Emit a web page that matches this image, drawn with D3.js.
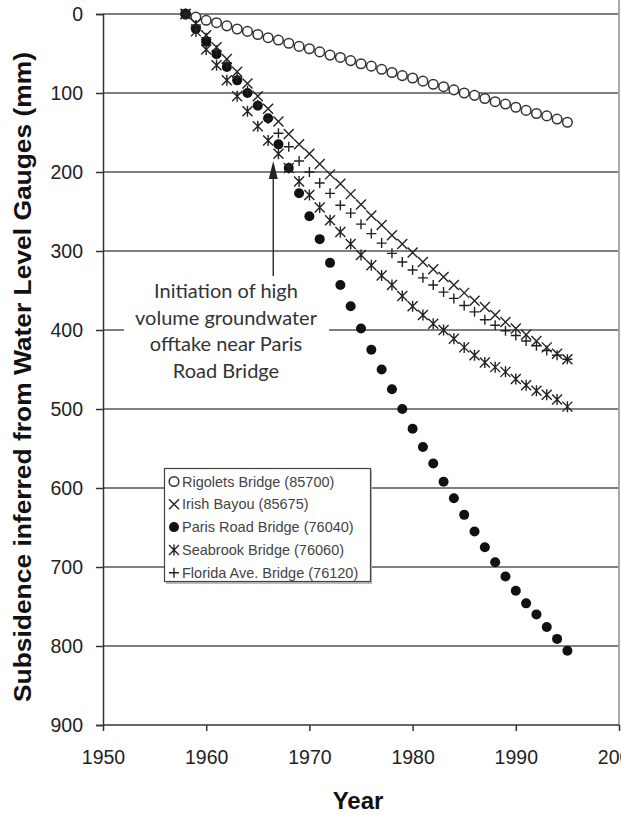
<!DOCTYPE html>
<html>
<head>
<meta charset="utf-8">
<script src="https://cdn.jsdelivr.net/npm/d3@7"></script>
<style>
  body { margin: 0; background: #fff; }
  svg { display: block; font-family: "Liberation Sans", Arial, sans-serif; }
  .tick text { font-size: 19.5px; fill: #222; }
</style>
</head>
<body>
<div id="chart"></div>
<script>
// years 1958 - 1995, one reading per year
var years = [1958,1959,1960,1961,1962,1963,1964,1965,1966,1967,1968,1969,1970,1971,1972,1973,1974,1975,1976,
             1977,1978,1979,1980,1981,1982,1983,1984,1985,1986,1987,1988,1989,1990,1991,1992,1993,1994,1995];

var rigolets = [0,4,8,11,15,19,22,26,30,33,37,41,44,48,52,55,59,63,66,70,74,78,81,85,89,92,96,100,103,107,111,114,118,122,126,129,133,137];
var irishBayou = [0,12,27,42,57,73,88,104,120,136,152,165,177,190,203,215,228,241,255,267,280,291,302,314,323,333,343,353,363,371,381,390,398,406,414,422,430,437];
var parisRoad = [0,19,35,51,67,84,100,116,132,165,195,227,256,285,315,343,370,398,425,450,475,500,525,548,569,592,613,634,655,675,694,712,730,746,760,776,791,806];
var seabrook = [0,22,45,65,84,104,123,142,160,177,195,212,229,245,261,276,291,305,318,331,343,357,370,381,392,400,411,422,432,441,447,453,462,470,477,482,488,497];
var floridaAve = [0,14,30,46,62,80,97,115,133,151,168,186,200,214,227,242,252,266,278,290,303,314,324,334,343,352,360,369,377,387,394,401,407,414,420,426,432,437];

var seriesNames = ["Rigolets Bridge (85700)", "Irish Bayou (85675)", "Paris Road Bridge (76040)",
                   "Seabrook Bridge (76060)", "Florida Ave. Bridge (76120)"];
var seriesValues = [rigolets, irishBayou, parisRoad, seabrook, floridaAve];
var seriesMarkers = ["circleOpen", "cross", "circle", "star", "plus"];

var yTicks = [0,100,200,300,400,500,600,700,800,900];
var xTicks = [1950,1960,1970,1980,1990,2000];

var annotationLines = ["Initiation of high", "volume groundwater", "offtake near Paris", "Road Bridge"];

var W = 621, H = 815;
var x = d3.scaleLinear().domain([1950, 2000]).range([103, 619]);
var y = d3.scaleLinear().domain([0, 900]).range([14, 725]);

var svg = d3.select("#chart").append("svg").attr("width", W).attr("height", H);

// gridlines
svg.append("g").selectAll("line")
  .data(yTicks.slice(0, -1))
  .enter().append("line")
  .attr("x1", x(1950)).attr("x2", x(2000))
  .attr("y1", function(d){ return y(d); }).attr("y2", function(d){ return y(d); })
  .attr("stroke", "#555").attr("stroke-width", 1.5);

// right border
svg.append("line")
  .attr("x1", x(2000)).attr("x2", x(2000))
  .attr("y1", 0).attr("y2", y(900))
  .attr("stroke", "#aaa").attr("stroke-width", 2);

// axes
var yAxis = svg.append("g")
  .attr("transform", "translate(" + x(1950) + ",0)")
  .call(d3.axisLeft(y).tickValues(yTicks).tickSize(7).tickPadding(13).tickFormat(d3.format("d")));
var xAxis = svg.append("g")
  .attr("transform", "translate(0," + y(900) + ")")
  .call(d3.axisBottom(x).tickValues(xTicks).tickSize(6).tickPadding(19).tickFormat(d3.format("d")));
[yAxis, xAxis].forEach(function(a){
  a.select(".domain").attr("stroke", "#333").attr("stroke-width", 1.5);
  a.selectAll(".tick line").attr("stroke", "#333").attr("stroke-width", 1.5);
  a.attr("font-family", null).attr("font-size", null);
});
xAxis.select(".domain").attr("d", "M" + x(1950) + ",0H" + x(2000));

// axis titles
svg.append("text")
  .attr("transform", "translate(31," + 377 + ") rotate(-90)")
  .attr("text-anchor", "middle")
  .attr("font-weight", "bold").attr("font-size", 24).attr("fill", "#111")
  .attr("textLength", 650).attr("lengthAdjust", "spacingAndGlyphs")
  .text("Subsidence inferred from Water Level Gauges (mm)");

svg.append("text")
  .attr("x", 358).attr("y", 809)
  .attr("text-anchor", "middle")
  .attr("font-weight", "bold").attr("font-size", 24).attr("fill", "#111")
  .text("Year");

// markers
function drawMarker(g, type, cx, cy) {
  var s = 5;
  if (type == "circleOpen") {
    g.append("circle").attr("cx", cx).attr("cy", cy).attr("r", 4.8)
      .attr("fill", "#fff").attr("stroke", "#333").attr("stroke-width", 1.5);
  } else if (type == "circle") {
    g.append("circle").attr("cx", cx).attr("cy", cy).attr("r", 5).attr("fill", "#111");
  } else if (type == "cross") {
    g.append("path").attr("d", "M" + (cx-s) + "," + (cy-s) + "L" + (cx+s) + "," + (cy+s) +
        "M" + (cx-s) + "," + (cy+s) + "L" + (cx+s) + "," + (cy-s))
      .attr("stroke", "#222").attr("stroke-width", 1.4);
  } else if (type == "plus") {
    g.append("path").attr("d", "M" + (cx-s) + "," + cy + "H" + (cx+s) + "M" + cx + "," + (cy-s) + "V" + (cy+s))
      .attr("stroke", "#222").attr("stroke-width", 1.4);
  } else if (type == "star") {
    // asterisk: x with a vertical stroke
    g.append("path").attr("d", "M" + (cx-s) + "," + (cy-s) + "L" + (cx+s) + "," + (cy+s) +
        "M" + (cx-s) + "," + (cy+s) + "L" + (cx+s) + "," + (cy-s) +
        "M" + cx + "," + (cy-s-0.5) + "V" + (cy+s+0.5))
      .attr("stroke", "#222").attr("stroke-width", 1.4);
  }
}

var marks = svg.append("g");
seriesValues.forEach(function(vals, i){
  var g = marks.append("g").attr("class", "series-" + i);
  vals.forEach(function(v, j){
    drawMarker(g, seriesMarkers[i], x(years[j]), y(v));
  });
});

// annotation
var ann = svg.append("g");
ann.append("rect").attr("x", 124).attr("y", 276).attr("width", 205).attr("height", 108).attr("fill", "#fff");
ann.append("line")
  .attr("x1", x(1966.5)).attr("x2", x(1966.5))
  .attr("y1", 276).attr("y2", 172)
  .attr("stroke", "#333").attr("stroke-width", 1.5);
ann.append("path")
  .attr("d", "M" + x(1966.5) + ",161L" + (x(1966.5) - 4.5) + ",179L" + (x(1966.5) + 4.5) + ",179Z")
  .attr("fill", "#222");
ann.selectAll(".ann")
  .data(annotationLines)
  .enter().append("text")
  .attr("class", "ann")
  .attr("x", 226)
  .attr("y", function(d, i){ return 298 + i * 26.5; })
  .attr("text-anchor", "middle")
  .attr("font-family", "Lato, 'Open Sans', sans-serif")
  .attr("font-size", 20).attr("fill", "#333")
  .text(function(d){ return d; });

// legend
var legend = svg.append("g");
legend.append("rect").attr("x", 166).attr("y", 470).attr("width", 206).attr("height", 114).attr("fill", "#bbb");
legend.append("rect").attr("x", 164.5).attr("y", 468.5).attr("width", 206).attr("height", 113)
  .attr("fill", "#fff").attr("stroke", "#444").attr("stroke-width", 1.2);
seriesNames.forEach(function(name, i){
  var cy = 481.5 + i * 22.8;
  var g = legend.append("g");
  drawMarker(g, seriesMarkers[i], 174, cy);
  g.append("text").attr("x", 182).attr("y", cy).attr("dy", "0.35em")
    .attr("font-size", 14.5).attr("fill", "#444")
    .text(name);
});
</script>
</body>
</html>
